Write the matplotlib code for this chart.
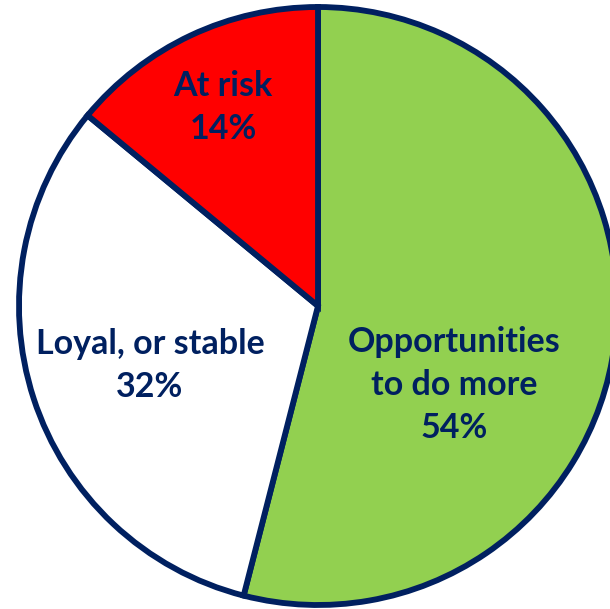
import matplotlib
matplotlib.use('Agg')
import matplotlib.pyplot as plt

# segment data (clockwise from 12 o'clock)
names = ['Opportunities\nto do more', 'Loyal, or stable', 'At risk']
shares = [54, 32, 14]
colors = ['#92D050', '#FFFFFF', '#FF0000']
label_xy = [(0.455, -0.264), (-0.562, -0.2), (-0.318, 0.665)]

navy = '#002060'

fig = plt.figure(figsize=(6.10, 6.09), dpi=100)
cx, cy, r = 318, 306, 299
ax = fig.add_axes([(cx - r) / 610, (609 - cy - r) / 609, 2 * r / 610, 2 * r / 609])

wedges, _ = ax.pie(shares, colors=colors, startangle=90, counterclock=False,
                   radius=1, wedgeprops=dict(edgecolor=navy, linewidth=4.2))
for w in wedges:
    w.set_clip_on(False)

for name, pct, (x, y) in zip(names, shares, label_xy):
    ax.text(x, y, "%s\n%i%%" % (name, pct), ha='center', va='center',
            fontsize=24.5, fontweight='bold', color=navy, family='Lato',
            linespacing=1.42)

ax.set_xlim(-1, 1)
ax.set_ylim(-1, 1)
ax.set_aspect('auto')
ax.axis('off')

fig.savefig('out.png', dpi=100)
